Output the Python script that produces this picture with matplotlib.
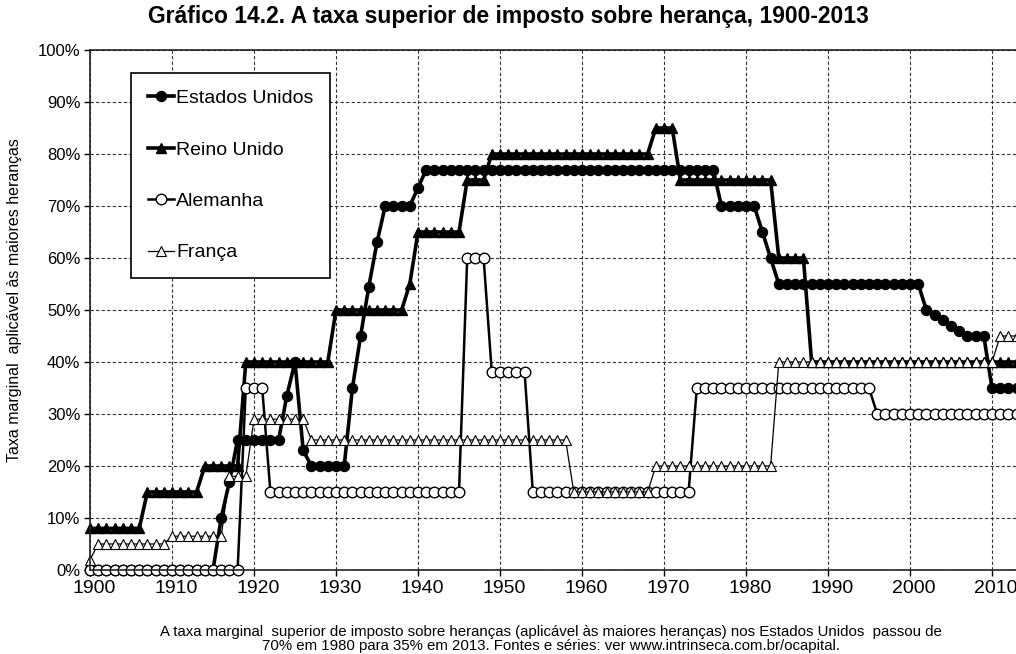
import matplotlib
matplotlib.use("Agg")
import matplotlib.pyplot as plt
from matplotlib.ticker import FuncFormatter
from matplotlib.transforms import ScaledTranslation

plt.rcParams['font.family'] = ['Liberation Sans', 'DejaVu Sans']

# -----------------------------
# Data (runs of constant rate: first year, last year, rate %)
# -----------------------------
us_runs = [(1900, 1915, 0), (1916, 1916, 10), (1917, 1917, 17), (1918, 1923, 25),
           (1924, 1924, 33.5), (1925, 1925, 40), (1926, 1926, 23), (1927, 1931, 20),
           (1932, 1932, 35), (1933, 1933, 45), (1934, 1934, 54.5), (1935, 1935, 63),
           (1936, 1939, 70), (1940, 1940, 73.5), (1941, 1976, 77), (1977, 1981, 70),
           (1982, 1982, 65), (1983, 1983, 60), (1984, 2001, 55), (2002, 2002, 50),
           (2003, 2003, 49), (2004, 2004, 48), (2005, 2005, 47), (2006, 2006, 46),
           (2007, 2009, 45), (2010, 2013, 35)]
uk_runs = [(1900, 1906, 8), (1907, 1913, 15), (1914, 1918, 20), (1919, 1929, 40),
           (1930, 1938, 50), (1939, 1939, 55), (1940, 1945, 65), (1946, 1948, 75),
           (1949, 1968, 80), (1969, 1971, 85), (1972, 1983, 75), (1984, 1987, 60),
           (1988, 2013, 40)]
de_runs = [(1900, 1918, 0), (1919, 1921, 35), (1922, 1945, 15), (1946, 1948, 60),
           (1949, 1953, 38), (1954, 1973, 15), (1974, 1995, 35), (1996, 2013, 30)]
fr_runs = [(1900, 1900, 2), (1901, 1909, 5), (1910, 1916, 6.5), (1917, 1919, 18),
           (1920, 1926, 29), (1927, 1958, 25), (1959, 1968, 15), (1969, 1983, 20),
           (1984, 2010, 40), (2011, 2013, 45)]

labels = ["Estados Unidos", "Reino Unido", "Alemanha", "França"]
x_ticks = list(range(1900, 2011, 10))
y_ticks = list(range(0, 101, 10))

title = "Gráfico 14.2. A taxa superior de imposto sobre herança, 1900-2013"
ylabel = "Taxa marginal  aplicável às maiores heranças"
caption = ("A taxa marginal  superior de imposto sobre heranças (aplicável às maiores heranças) "
           "nos Estados Unidos  passou de\n"
           "70% em 1980 para 35% em 2013. Fontes e séries: ver www.intrinseca.com.br/ocapital.")


def expand(runs):
    xs, ys = [], []
    for a, b, v in runs:
        for yr in range(a, b + 1):
            xs.append(yr)
            ys.append(v)
    return xs, ys


# -----------------------------
# Figure
# -----------------------------
W, H = 1016, 654
fig = plt.figure(figsize=(W / 100, H / 100), dpi=100)
ax = fig.add_axes([90 / W, 84 / H, (W - 90) / W, 520 / H])

styles = [
    dict(color="black", lw=2.6, marker="o", ms=7.2, mfc="black", mec="black"),
    dict(color="black", lw=2.6, marker="^", ms=7, mfc="black", mec="black"),
    dict(color="black", lw=1.8, marker="o", ms=7.6, mfc="white", mec="black", mew=1.0),
    dict(color="black", lw=0.9, marker="^", ms=7, mfc="white", mec="black", mew=0.8),
]

for runs, lab, st in zip([us_runs, uk_runs, de_runs, fr_runs], labels, styles):
    xs, ys = expand(runs)
    ax.plot(xs, ys, label=lab, clip_on=False, **st)

ax.set_xlim(1900, 1900 + (W - 90) / 8.2)
ax.set_ylim(0, 100)
ax.set_xticks(x_ticks)
ax.set_yticks(y_ticks)
ax.yaxis.set_major_formatter(FuncFormatter(lambda v, p: f"{int(v)}%"))

ax.grid(True, color="#333333", linestyle=(0, (3, 2)), linewidth=0.8)
ax.set_axisbelow(True)
for side in ["left", "bottom", "top"]:
    ax.spines[side].set_linewidth(1.2)
    ax.spines[side].set_color("#222222")
ax.spines["right"].set_visible(False)

ax.tick_params(axis="x", direction="out", length=4, width=1, labelsize=14, pad=3)
ax.tick_params(axis="y", direction="out", length=4, width=1, labelsize=12, pad=3)
shift = ScaledTranslation(4 / 100, 0, fig.dpi_scale_trans)
for lbl in ax.get_xticklabels():
    lbl.set_transform(lbl.get_transform() + shift)

leg = ax.legend(loc="upper left", bbox_to_anchor=(131 / W, 1 - 73 / H),
                bbox_transform=fig.transFigure, borderaxespad=0,
                fontsize=14, handlelength=1.35, handletextpad=0.12,
                labelspacing=1.74, borderpad=0.85, fancybox=False,
                framealpha=1, edgecolor="black")
leg.get_frame().set_linewidth(1.2)

fig.text(508 / W, 1 - 16 / H, title, ha="center", va="center",
         fontsize=16.5, fontweight="bold")
fig.text(15 / W, 1 - 300 / H, ylabel, ha="center", va="center",
         rotation=90, fontsize=11.5)
fig.text(551 / W, 1 - 639 / H, caption, ha="center", va="center",
         fontsize=10.8, linespacing=0.95)

fig.savefig("out.png", dpi=100)
